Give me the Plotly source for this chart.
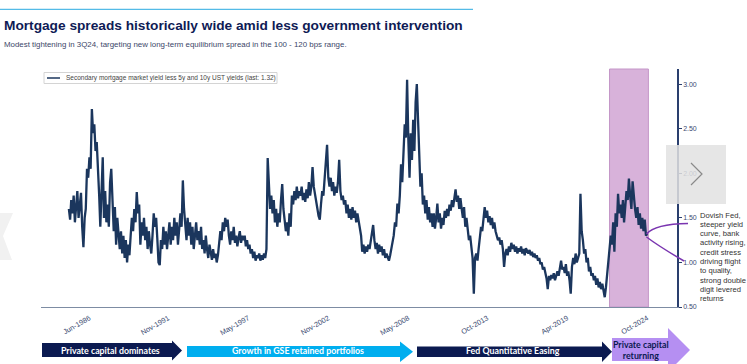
import pandas as pd
import plotly.graph_objects as go

# ---------------- data (monthly) ----------------
start_month = "1985-01-01"
y1985 = [1.60, 1.48, 1.70, 1.55, 1.75, 1.45, 1.62, 1.80, 1.50, 1.68, 1.78, 1.40]
y1986 = [1.17, 1.50, 1.60, 2.05, 1.95, 2.18, 2.05, 2.72, 2.45, 2.55, 2.25, 2.35]
y1987 = [2.10, 1.75, 1.40, 1.75, 2.18, 1.50, 1.80, 1.45, 1.65, 1.40, 1.90, 2.05]
y1988 = [1.55, 1.35, 1.62, 1.20, 1.50, 1.30, 1.15, 1.35, 1.10, 1.30, 1.05, 1.25]
y1989 = [1.00, 1.20, 1.08, 1.30, 1.50, 1.35, 1.60, 1.45, 1.79, 1.55, 1.65, 1.20]
y1990 = [1.45, 1.30, 1.50, 1.25, 1.40, 1.15, 1.35, 1.20, 1.10, 1.30, 1.55, 1.40]
y1991 = [1.50, 1.25, 1.00, 0.97, 1.25, 1.15, 1.40, 1.20, 1.35, 1.15, 1.30, 1.45]
y1992 = [1.20, 1.40, 1.25, 1.50, 1.30, 1.45, 1.20, 1.35, 1.55, 1.40, 1.92, 1.60]
y1993 = [1.40, 1.25, 1.50, 1.30, 1.45, 1.20, 1.40, 1.15, 1.30, 1.45, 1.25, 1.35]
y1994 = [1.20, 1.40, 1.15, 1.25, 1.10, 1.30, 1.15, 1.05, 1.20, 1.10, 1.03, 1.15]
y1995 = [1.05, 1.10, 1.00, 1.08, 1.20, 1.35, 1.25, 1.45, 1.35, 1.50, 1.40, 1.48]
y1996 = [1.30, 1.20, 1.35, 1.25, 1.40, 1.22, 1.30, 1.18, 1.28, 1.35, 1.22, 1.30]
y1997 = [1.25, 1.30, 1.18, 1.25, 1.15, 1.20, 1.10, 1.15, 1.05, 1.12, 1.02, 1.08]
y1998 = [1.05, 1.10, 1.02, 1.08, 1.03, 1.10, 1.05, 1.15, 2.17, 1.85, 1.60, 1.75]
y1999 = [1.55, 1.70, 1.45, 1.60, 1.40, 1.55, 1.45, 1.70, 1.88, 1.60, 1.50, 1.35]
y2000 = [1.45, 1.30, 1.55, 1.40, 1.75, 1.65, 1.80, 1.70, 1.85, 1.72, 1.80, 1.75]
y2001 = [1.85, 1.70, 1.78, 1.68, 1.82, 1.72, 1.90, 1.75, 1.85, 2.07, 1.85, 1.75]
y2002 = [1.70, 1.60, 1.52, 1.48, 1.65, 1.80, 1.75, 1.95, 2.10, 2.32, 1.95, 1.85]
y2003 = [1.95, 1.80, 1.90, 1.75, 1.85, 1.78, 1.90, 2.15, 1.80, 1.70, 1.75, 1.65]
y2004 = [1.70, 1.55, 1.65, 1.50, 1.60, 1.48, 1.62, 1.50, 1.58, 1.45, 1.55, 1.48]
y2005 = [1.40, 1.30, 1.12, 1.20, 1.10, 1.18, 1.12, 1.20, 1.15, 1.25, 1.30, 1.42]
y2006 = [1.25, 1.15, 1.22, 1.10, 1.20, 1.12, 1.18, 1.08, 1.15, 1.05, 1.10, 1.05]
y2007 = [1.02, 1.08, 1.15, 1.20, 1.30, 1.45, 1.40, 1.66, 1.55, 1.75, 2.10, 1.90]
y2008 = [2.30, 2.55, 2.40, 3.05, 2.40, 1.95, 2.45, 2.15, 2.60, 2.25, 2.80, 3.00]
y2009 = [2.60, 2.20, 1.85, 2.00, 1.65, 1.75, 1.55, 1.70, 1.48, 1.62, 1.45, 1.55]
y2010 = [1.40, 1.55, 1.38, 1.50, 1.66, 1.45, 1.55, 1.38, 1.50, 1.42, 1.58, 1.50]
y2011 = [1.60, 1.52, 1.65, 1.58, 1.70, 1.62, 1.75, 1.82, 1.68, 1.75, 1.60, 1.72]
y2012 = [1.60, 1.50, 1.62, 1.40, 1.50, 1.35, 1.25, 1.30, 1.15, 1.05, 0.65, 1.05]
y2013 = [1.10, 1.02, 1.15, 1.30, 1.40, 1.35, 1.50, 1.62, 1.50, 1.58, 1.45, 1.52]
y2014 = [1.42, 1.50, 1.38, 1.45, 1.35, 1.30, 1.25, 1.28, 1.20, 1.25, 1.15, 0.95]
y2015 = [1.10, 1.15, 1.08, 1.18, 1.12, 1.22, 1.15, 1.20, 1.12, 1.18, 1.10, 1.16]
y2016 = [1.12, 1.18, 1.10, 1.15, 1.08, 1.16, 1.12, 1.10, 1.14, 1.08, 1.12, 1.06]
y2017 = [1.10, 1.05, 1.08, 1.02, 1.05, 0.98, 1.00, 0.92, 0.95, 0.88, 0.82, 0.70]
y2018 = [0.85, 0.80, 0.86, 0.82, 0.88, 0.80, 0.84, 0.90, 0.85, 0.95, 1.02, 0.92]
y2019 = [0.95, 0.88, 0.98, 0.85, 0.90, 0.80, 0.65, 0.95, 1.05, 0.98, 1.10, 1.00]
y2020 = [1.05, 1.10, 1.77, 1.35, 1.25, 1.10, 1.15, 1.00, 1.05, 0.90, 0.95, 0.85]
y2021 = [0.88, 0.80, 0.85, 0.75, 0.82, 0.72, 0.78, 0.70, 0.76, 0.68, 0.61, 0.72]
y2022 = [0.85, 1.00, 1.15, 1.30, 1.20, 1.45, 1.12, 1.55, 1.40, 1.77, 1.55, 1.65]
y2023 = [1.50, 1.70, 1.45, 1.65, 1.80, 1.70, 1.94, 1.75, 1.60, 1.91, 1.70, 1.60]
y2024 = [1.50, 1.62, 1.42, 1.55, 1.38, 1.50, 1.35, 1.48, 1.30, 1.32]

spread = (y1985 + y1986 + y1987 + y1988 + y1989 + y1990 + y1991 + y1992 + y1993
          + y1994 + y1995 + y1996 + y1997 + y1998 + y1999 + y2000 + y2001 + y2002
          + y2003 + y2004 + y2005 + y2006 + y2007 + y2008 + y2009 + y2010 + y2011
          + y2012 + y2013 + y2014 + y2015 + y2016 + y2017 + y2018 + y2019 + y2020
          + y2021 + y2022 + y2023 + y2024)
dates = pd.date_range(start_month, periods=len(spread), freq="MS")

tick_dates = ["1986-06-01", "1991-11-01", "1997-05-01", "2002-11-01",
              "2008-05-01", "2013-10-01", "2019-04-01", "2024-10-01"]
tick_text = ["Jun-1986", "Nov-1991", "May-1997", "Nov-2002",
             "May-2008", "Oct-2013", "Apr-2019", "Oct-2024"]
y_ticks = [0.5, 1.0, 1.5, 2.0, 2.5, 3.0]
shade_start, shade_end = "2022-03-01", "2024-11-01"
series_name = "Secondary mortgage market yield less 5y and 10y UST yields (last: 1.32)"
note_lines = ["Dovish Fed,", "steeper yield", "curve, bank", "activity rising,",
              "credit stress", "driving flight", "to quality,", "strong double",
              "digit levered", "returns"]
phases = ["Private capital dominates", "Growth in GSE retained portfolios",
          "Fed Quantitative Easing", "Private capital<br>returning"]

# ---------------- layout geometry (pixels) ----------------
W, H = 747, 364
L, R, T, B = 41, 677, 69, 307
PW, PH = R - L, B - T


def px(x):
    return (x - L) / PW


def py(y):
    return (B - y) / PH


NAVY = "#1b365d"
SANS = "Liberation Sans, Arial"

fig = go.Figure()
fig.add_trace(go.Scatter(x=dates, y=spread, mode="lines", name=series_name,
                         line=dict(color=NAVY, width=2.3), showlegend=False))

shapes = []
annotations = []

# shaded period
shapes.append(dict(type="rect", xref="x", yref="paper", x0=shade_start, x1=shade_end,
                   y0=0, y1=1, fillcolor="rgb(216,178,218)",
                   line=dict(color="rgb(196,150,200)", width=1), layer="below"))

# top rule
shapes.append(dict(type="line", xref="paper", yref="paper", x0=px(0), x1=px(473),
                   y0=py(9.3), y1=py(9.3), line=dict(color="#29abe2", width=1)))

# legend box (manual)
shapes.append(dict(type="rect", xref="paper", yref="paper", x0=px(44), x1=px(277),
                   y0=py(83.5), y1=py(72.5), line=dict(color="#d4d4d4", width=1),
                   fillcolor="white"))
shapes.append(dict(type="line", xref="paper", yref="paper", x0=px(47), x1=px(60),
                   y0=py(78), y1=py(78), line=dict(color=NAVY, width=1.5)))
annotations.append(dict(xref="paper", yref="paper", x=px(64), y=py(78.2), text=series_name,
                        showarrow=False, xanchor="left", yanchor="middle",
                        font=dict(family=SANS, size=6.5, color="#444")))

# purple bracket
shapes.append(dict(type="path", xref="paper", yref="paper",
                   path=f"M {px(646.5)} {py(234)} Q {px(655)} {py(224)} {px(688)} {py(223.5)}",
                   line=dict(color="#7a35b0", width=1.5)))
shapes.append(dict(type="path", xref="paper", yref="paper",
                   path=f"M {px(646.5)} {py(237)} Q {px(660)} {py(247)} {px(684)} {py(261)}",
                   line=dict(color="#7a35b0", width=1.5)))

# note text
for i, t in enumerate(note_lines):
    annotations.append(dict(xref="paper", yref="paper", x=px(698.5), y=py(215 + i * 9.3),
                            text=t, showarrow=False, xanchor="left", yanchor="middle",
                            font=dict(family=SANS, size=7.6, color="#333")))


def arrow(x0, xh, x1, bt, bb, ht, hb, color):
    mid = (ht + hb) / 2
    pts = [(x0, bt), (xh, bt), (xh, ht), (x1, mid), (xh, hb), (xh, bb), (x0, bb)]
    p = "M " + " L ".join(f"{px(a)} {py(b)}" for a, b in pts) + " Z"
    return dict(type="path", xref="paper", yref="paper", path=p,
                fillcolor=color, line=dict(width=0))


shapes.append(arrow(42, 172, 182, 343, 357, 340.5, 360.5, "#0b1a50"))
shapes.append(arrow(187, 400, 413, 346, 357, 341.5, 362, "#00aeef"))
shapes.append(arrow(417, 602, 612, 346.5, 357, 341.5, 362, "#0b1a50"))
shapes.append(arrow(612, 668, 690, 338, 361, 328, 372, "#b58ff2"))

phase_x = [110, 298, 513, 641]
phase_col = ["white", "white", "white", "#0b1a50"]
for t, xx, c in zip(phases, phase_x, phase_col):
    annotations.append(dict(xref="paper", yref="paper", x=px(xx), y=py(350), text=f"<b>{t}</b>",
                            showarrow=False, xanchor="center", yanchor="middle",
                            font=dict(family="Lato, Open Sans, Arial", size=8.8, color=c)))

# carousel overlay (screen artefacts)
shapes.append(dict(type="rect", xref="paper", yref="paper", x0=px(666), x1=px(726),
                   y0=py(204), y1=py(145), fillcolor="rgba(226,226,226,0.85)",
                   line=dict(width=0)))
shapes.append(dict(type="path", xref="paper", yref="paper",
                   path=f"M {px(691)} {py(163)} L {px(702)} {py(174)} L {px(691)} {py(185)}",
                   line=dict(color="#8a8a8a", width=1.2)))
shapes.append(dict(type="path", xref="paper", yref="paper",
                   path=f"M {px(0)} {py(213)} L {px(13)} {py(213)} L {px(3)} {py(236)} L {px(12)} {py(260)} L {px(0)} {py(260)} Z",
                   fillcolor="#f1f1f1", line=dict(width=0)))

# titles
annotations.append(dict(xref="paper", yref="paper", x=px(2), y=py(25),
                        text="<b>Mortgage spreads historically wide amid less government intervention</b>",
                        showarrow=False, xanchor="left", yanchor="middle",
                        font=dict(family=SANS, size=13.7, color="#0f1b55")))
annotations.append(dict(xref="paper", yref="paper", x=px(2), y=py(44.5),
                        text="Modest tightening in 3Q24, targeting new long-term equilibrium spread in the 100 - 120 bps range.",
                        showarrow=False, xanchor="left", yanchor="middle",
                        font=dict(family=SANS, size=7.9, color="#3b4668")))

fig.update_layout(
    width=W, height=H,
    margin=dict(l=L, r=W - R, t=T, b=H - B),
    paper_bgcolor="white", plot_bgcolor="white",
    shapes=shapes, annotations=annotations,
    xaxis=dict(type="date", range=["1983-02-01", "2026-10-20"], tickmode="array",
               tickvals=tick_dates, ticktext=tick_text, tickangle=-30,
               showgrid=False, zeroline=False, showline=True,
               linecolor="#7d8ca3", linewidth=1.2, ticks="", ticklabelstandoff=3,
               tickfont=dict(family=SANS, size=7.3, color="#3a4a70")),
    yaxis=dict(side="right", range=[0.5, 3.17], tickmode="array", tickvals=y_ticks,
               tickformat=".2f", showgrid=False, zeroline=False, showline=True,
               linecolor="#2a3f6e", linewidth=1.5, ticks="outside", ticklen=3,
               tickcolor="#2a3f6e",
               tickfont=dict(family=SANS, size=7, color="#3a4a70")),
)

fig.write_html("out.html", config={"displayModeBar": False},
               post_script="document.body.style.margin='0';")
